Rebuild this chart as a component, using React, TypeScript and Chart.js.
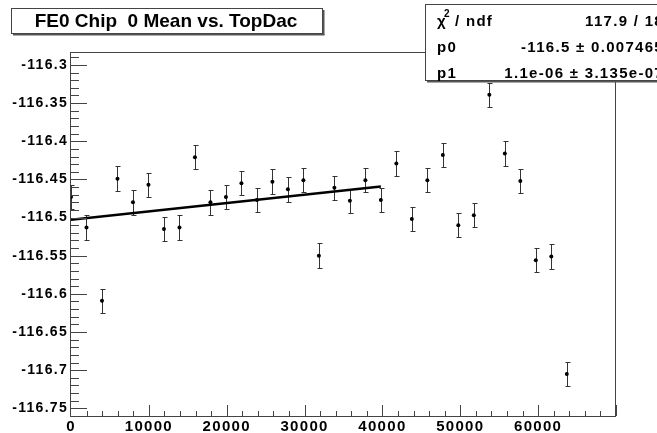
import React, { useEffect, useRef } from 'react';
import { Chart, registerables } from 'chart.js';

Chart.register(...registerables);

// ---- data ----
const topDac = [
  0, 1990, 3980, 5970, 7960, 9950, 11940, 13930, 15920, 17910, 19900,
  21890, 23880, 25870, 27860, 29850, 31840, 33830, 35820, 37810, 39800,
  41790, 43780, 45770, 47760, 49750, 51740, 53730, 55720, 57710, 59700,
  61690, 63680,
];
const meanValues = [
  -116.473, -116.513, -116.609, -116.449, -116.480, -116.457, -116.515, -116.513,
  -116.421, -116.480, -116.473, -116.455, -116.477, -116.453, -116.463, -116.451,
  -116.550, -116.461, -116.478, -116.451, -116.477, -116.429, -116.502, -116.451,
  -116.418, -116.510, -116.497, -116.339, -116.416, -116.452, -116.556, -116.551,
  -116.705,
];
const meanErrors = [
  0.016, 0.016, 0.016, 0.016, 0.016, 0.016, 0.016, 0.016,
  0.016, 0.016, 0.016, 0.016, 0.016, 0.016, 0.016, 0.016,
  0.016, 0.016, 0.016, 0.016, 0.016, 0.016, 0.016, 0.016,
  0.016, 0.016, 0.016, 0.016, 0.016, 0.016, 0.016, 0.016,
  0.016,
];
const fitRange = [0, 39800];
const fitP0 = -116.503;
const fitP1 = 1.1e-6;

const titleText = 'FE0 Chip  0 Mean vs. TopDac';
const statLabels = ['p0', 'p1'];
const statValues = ['117.9 / 18', '-116.5 \u00b1 0.007465', '1.1e-06 \u00b1 3.135e-07'];

const xMin = 0;
const xMax = 70000;
const xStep = 10000;
const yMin = -116.7601;
const yMax = -116.283;
const yStep = 0.05;

const FONT = '"Liberation Sans", Arial, Helvetica, sans-serif';
const FRAME = '#444';

const rootPlugin = {
  id: 'rootStyle',
  beforeDraw(chart: any) {
    const ctx = chart.ctx;
    ctx.save();
    ctx.fillStyle = '#fff';
    ctx.fillRect(0, 0, chart.width, chart.height);
    ctx.restore();
    (ctx as any).letterSpacing = '1.3px';
  },
  beforeDatasetsDraw(chart: any) {
    // error bars
    const { ctx, scales } = chart;
    const xs = scales.x, ys = scales.y;
    ctx.save();
    ctx.beginPath();
    ctx.rect(chart.chartArea.left, chart.chartArea.top, chart.chartArea.right - chart.chartArea.left, chart.chartArea.bottom - chart.chartArea.top);
    ctx.clip();
    ctx.strokeStyle = '#333';
    ctx.lineWidth = 1;
    ctx.beginPath();
    for (let i = 0; i < topDac.length; i++) {
      const px = Math.round(xs.getPixelForValue(topDac[i])) + 0.5;
      const y1 = Math.round(ys.getPixelForValue(meanValues[i] + meanErrors[i])) + 0.5;
      const y2 = Math.round(ys.getPixelForValue(meanValues[i] - meanErrors[i])) + 0.5;
      ctx.moveTo(px, y1);
      ctx.lineTo(px, y2);
      ctx.moveTo(px - 2, y1);
      ctx.lineTo(px + 3, y1);
      ctx.moveTo(px - 2, y2);
      ctx.lineTo(px + 3, y2);
    }
    ctx.stroke();
    ctx.restore();
  },
  afterDraw(chart: any) {
    const { ctx, chartArea: a, scales } = chart;
    const xs = scales.x, ys = scales.y;
    ctx.save();
    (ctx as any).letterSpacing = '0px';
    // frame
    ctx.strokeStyle = FRAME;
    ctx.lineWidth = 1;
    ctx.strokeRect(a.left - 0.5, a.top + 0.5, a.right - a.left, a.bottom - a.top);
    // y ticks (major every 0.05, minor every 0.01), drawn inward
    ctx.beginPath();
    const kLo = Math.ceil(ys.min * 100 - 1e-6);
    const kHi = Math.floor(ys.max * 100 + 1e-6);
    for (let k = kLo; k <= kHi; k++) {
      const y = Math.round(ys.getPixelForValue(k / 100)) + 0.5;
      const len = k % 5 === 0 ? 16 : 8;
      ctx.moveTo(a.left - 0.5, y);
      ctx.lineTo(a.left + len, y);
    }
    // x ticks (major every 10000, minor every 2000), drawn inward
    for (let k = 1; k * 2000 <= xs.max; k++) {
      const x = Math.round(xs.getPixelForValue(k * 2000)) + 0.5;
      const len = k % 5 === 0 ? 11 : 5;
      ctx.moveTo(x, a.bottom);
      ctx.lineTo(x, a.bottom - len);
    }
    ctx.stroke();

    // title box
    ctx.fillStyle = '#fff';
    ctx.fillRect(11, 8, 312, 25);
    ctx.strokeStyle = FRAME;
    ctx.strokeRect(11.5, 8.5, 311, 25);
    ctx.fillStyle = '#555';
    ctx.fillRect(323, 10, 1.5, 25);
    ctx.fillRect(13, 34, 311.5, 1.5);
    ctx.fillStyle = '#000';
    ctx.font = 'bold 19px ' + FONT;
    ctx.textAlign = 'center';
    ctx.textBaseline = 'alphabetic';
    ctx.fillText(titleText, 166, 27);

    // stats box
    ctx.fillStyle = '#fff';
    ctx.fillRect(425, 4, 240, 77);
    ctx.strokeStyle = FRAME;
    ctx.strokeRect(425.5, 4.5, 240, 76);
    ctx.fillStyle = '#555';
    ctx.fillRect(427, 81, 240, 1.5);
    ctx.fillStyle = '#000';
    (ctx as any).letterSpacing = '1.3px';
    ctx.textAlign = 'left';
    ctx.font = 'bold 15px ' + FONT;
    ctx.fillText('\u03c7', 437, 26);
    ctx.font = 'bold 10px ' + FONT;
    ctx.fillText('2', 444, 17);
    ctx.font = 'bold 15px ' + FONT;
    ctx.fillText('/ ndf', 455, 26);
    ctx.fillText(statLabels[0], 437, 52);
    ctx.fillText(statLabels[1], 437, 78);
    ctx.textAlign = 'right';
    ctx.fillText(statValues[0], 664, 26);
    ctx.fillText(statValues[1], 664, 52);
    ctx.fillText(statValues[2], 664, 78);
    ctx.restore();
  },
};

export default function App() {
  const ref = useRef<HTMLCanvasElement>(null);
  useEffect(() => {
    const canvas = ref.current;
    if (!canvas) return;
    const points = topDac.map((x, i) => ({ x, y: meanValues[i] }));
    const fitLine = fitRange.map((x) => ({ x, y: fitP0 + fitP1 * x }));
    const chart = new Chart(canvas, {
      type: 'scatter',
      data: {
        datasets: [
          {
            type: 'scatter',
            data: points,
            pointRadius: 2,
            pointBackgroundColor: '#000',
            pointBorderWidth: 0,
            order: 2,
          } as any,
          {
            type: 'line',
            data: fitLine,
            borderColor: '#000',
            borderWidth: 2.5,
            pointRadius: 0,
            fill: false,
            tension: 0,
            order: 1,
          } as any,
        ],
      },
      options: {
        animation: false,
        responsive: false,
        maintainAspectRatio: false,
        devicePixelRatio: 1,
        layout: { padding: { top: 52, right: 41, left: 0, bottom: 0 } },
        plugins: {
          legend: { display: false },
          tooltip: { enabled: false },
          title: { display: false },
        },
        events: [],
        scales: {
          x: {
            type: 'linear',
            min: xMin,
            max: xMax,
            grid: { display: false, drawTicks: false },
            border: { display: false },
            ticks: {
              stepSize: xStep,
              includeBounds: false,
              autoSkip: false,
              maxRotation: 0,
              padding: 2,
              color: '#000',
              font: { family: FONT, size: 15, weight: 'bold' },
              callback: (v: any) => (Number(v) >= xMax ? '' : String(Number(v))),
            },
            afterFit: (s: any) => {
              s.height = 17;
            },
          },
          y: {
            type: 'linear',
            min: yMin,
            max: yMax,
            grid: { display: false, drawTicks: false },
            border: { display: false },
            ticks: {
              stepSize: yStep,
              includeBounds: false,
              autoSkip: false,
              padding: 3,
              color: '#000',
              font: { family: FONT, size: 14, weight: 'bold' },
              callback: (v: any) => String(parseFloat(Number(v).toFixed(2))),
            },
            afterFit: (s: any) => {
              s.width = 71;
            },
          },
        },
      } as any,
      plugins: [rootPlugin],
    });
    return () => chart.destroy();
  }, []);
  return (
    <div style={{ position: 'absolute', left: 0, top: 0, width: 657, height: 433, background: '#fff' }}>
      <canvas ref={ref} width={657} height={433} style={{ display: 'block', width: 657, height: 433 }} />
    </div>
  );
}
